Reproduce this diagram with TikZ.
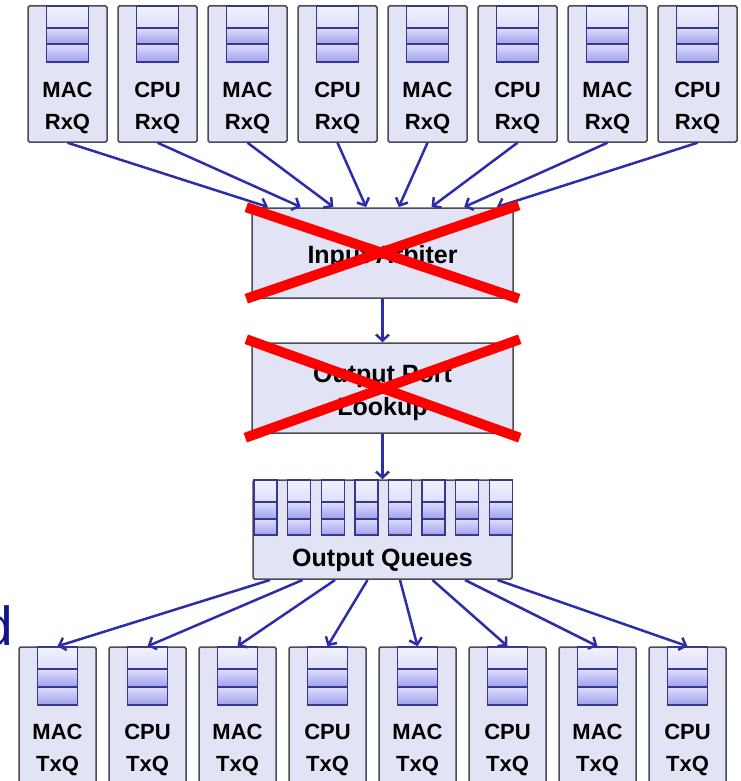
\documentclass[tikz,border=0pt]{standalone}
\usepackage{fontspec}
\setsansfont{Liberation Sans}
\usetikzlibrary{positioning, arrows.meta, calc}

\definecolor{boxfill}{RGB}{226,228,246}
\definecolor{boxline}{RGB}{75,75,82}
\definecolor{qline}{RGB}{55,55,140}
\definecolor{qlight}{RGB}{222,222,252}
\definecolor{qdark}{RGB}{160,160,238}
\definecolor{arrowblue}{RGB}{45,45,170}
\definecolor{crossred}{RGB}{255,0,0}
\definecolor{titleblue}{RGB}{20,20,145}

% one queue stack: left, right, top, first line, second line, bottom
\newcommand{\qstack}[6]{%
  \shade[top color=white!60!qlight, bottom color=qlight] (#1,#3) rectangle (#2,#4);
  \shade[top color=qlight, bottom color=qdark] (#1,#4) rectangle (#2,#5);
  \shade[top color=qlight, bottom color=qdark] (#1,#5) rectangle (#2,#6);
  \draw[qline, line width=1.4pt] (#1,#3) rectangle (#2,#6) (#1,#4) -- (#2,#4) (#1,#5) -- (#2,#5);
}

\begin{document}
\begin{tikzpicture}[x=1pt, y=-1pt,
    qbox/.style={draw=boxline, fill=boxfill, line width=1.5pt, rounded corners=1.5pt, inner sep=0pt},
    rxbox/.style={qbox, minimum width=79pt, minimum height=136pt},
    txbox/.style={qbox, minimum width=77pt, minimum height=153pt},
    stage/.style={qbox, minimum width=261pt, minimum height=90pt},
    qlabel/.style={align=center, inner sep=0pt, font=\sffamily\bfseries\fontsize{22}{32}\selectfont},
    stagelabel/.style={qlabel, font=\sffamily\bfseries\fontsize{25}{33}\selectfont},
    flow/.style={-{Straight Barb[length=6pt, width=13pt]}, line width=2.5pt, draw=arrowblue},
    cross/.style={draw=crossred, line width=10pt}]

  \useasboundingbox (0,0) rectangle (740,781);
  \clip (0,0) rectangle (740,781);

  % receive queues
  \foreach \i/\nm in {1/MAC,2/CPU,3/MAC,4/CPU,5/MAC,6/CPU,7/MAC,8/CPU}{
    \pgfmathsetmacro{\cx}{67.5+90*(\i-1)}
    \node[rxbox] (rx\i) at (\cx,74) {};
    \qstack{\cx-21}{\cx+21}{6}{28}{44}{62}
    \node[qlabel] at (\cx,108) {\nm\\RxQ};
  }

  % pipeline
  \node[stage] (arbiter) at (382.5,253) {};
  \node[stagelabel] (arbitertext) at (382.5,257) {Input Arbiter};
  \node[stage] (lookup) at (382.5,388) {};
  \node[stagelabel] (lookuptext) at (382.5,393) {Output Port\\Lookup};
  \node[qbox, minimum width=259pt, minimum height=99pt] (oq) at (382.5,529.5) {};
  \foreach \k in {0,...,7}{
    \pgfmathsetmacro{\sx}{254+33.6*\k}
    \qstack{\sx}{\sx+23}{480}{502}{519}{535}
  }
  \node[stagelabel] (oqtext) at (382.5,560) {Output Queues};

  % transmit queues
  \foreach \i/\nm in {1/MAC,2/CPU,3/MAC,4/CPU,5/MAC,6/CPU,7/MAC,8/CPU}{
    \pgfmathsetmacro{\cx}{57.5+90*(\i-1)}
    \node[txbox] (tx\i) at (\cx,723.5) {};
    \qstack{\cx-20}{\cx+20}{647}{669}{687}{705}
    \node[qlabel] at (\cx,750) {\nm\\TxQ};
  }

  % connectors
  \foreach \i in {1,...,8}{
    \coordinate (in\i) at ({268+32.7*(\i-1)},207);
    \coordinate (out\i) at ({270+32.5*(\i-1)},580);
    \draw[flow] (rx\i.south) -- (in\i);
    \draw[flow] (out\i) -- (tx\i.north);
  }
  \draw[flow] (arbiter) -- (lookup);
  \draw[flow] (lookup) -- (oq);

  % crossed out stages
  \draw[cross] ($(arbiter.north west)+(-5,0)$) -- ($(arbiter.south east)+(5,0)$);
  \draw[cross] ($(arbiter.south west)+(-5,0)$) -- ($(arbiter.north east)+(5,-2)$);
  \draw[cross] ($(lookup.north west)+(-5,-3)$) -- ($(lookup.south east)+(6,4)$);
  \draw[cross] ($(lookup.south west)+(-6,4)$) -- ($(lookup.north east)+(6,-3)$);

  % cut off heading letter
  \node[anchor=base west, inner sep=0pt, text=titleblue,
    font=\sffamily\fontsize{55}{55}\selectfont] (head) at (-18,645) {d};
\end{tikzpicture}
\end{document}
